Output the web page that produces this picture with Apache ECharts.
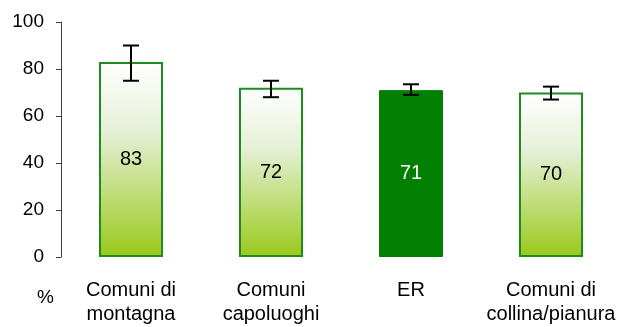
<!DOCTYPE html>
<html>
<head>
<meta charset="utf-8">
<script src="https://cdn.jsdelivr.net/npm/echarts@6/dist/echarts.min.js"></script>
<style>html,body{margin:0;padding:0;background:#fff;}#c{width:624px;height:327px;}</style>
</head>
<body>
<div id="c"></div>
<script>
const categories = ['Comuni di\nmontagna', 'Comuni\ncapoluoghi', 'ER', 'Comuni di\ncollina/pianura'];
const values = [83, 72, 71, 70];
const errLow = [75, 68, 69, 67];
const errHigh = [90, 75, 73.5, 72.5];
const yTicks = [0, 20, 40, 60, 80, 100];
const highlight = 'ER';

const chart = echarts.init(document.getElementById('c'), null, {renderer: 'canvas'});
const FONT = 'Liberation Sans, Arial, sans-serif';
const gradient = new echarts.graphic.LinearGradient(0, 0, 0, 1, [
  {offset: 0, color: '#ffffff'},
  {offset: 0.35, color: '#e6f0d8'},
  {offset: 1, color: '#99c91a'}
]);
const barData = values.map((v, i) => {
  const isHi = categories[i] === highlight;
  return {
    value: v,
    itemStyle: isHi ? {color: '#007f00', borderColor: '#007f00', borderWidth: 1}
                    : {color: gradient, borderColor: '#1e8c1e', borderWidth: 2},
    label: {color: isHi ? '#ffffff' : '#000000'}
  };
});
const errData = values.map((v, i) => [i, errLow[i], errHigh[i]]);

chart.setOption({
  animation: false,
  grid: {left: 61, right: 3, top: 22, bottom: 70},
  xAxis: {
    type: 'category',
    data: categories,
    axisLine: {show: false},
    axisTick: {show: false},
    axisLabel: {fontFamily: FONT, fontSize: 20, color: '#000', lineHeight: 24, margin: 21, interval: 0}
  },
  yAxis: {
    type: 'value',
    min: yTicks[0], max: yTicks[yTicks.length - 1], interval: 20,
    splitLine: {show: false},
    axisLine: {show: true, lineStyle: {color: '#404040', width: 1}},
    axisTick: {show: true, inside: false, length: 5, lineStyle: {color: '#404040'}},
    axisLabel: {fontFamily: FONT, fontSize: 19, color: '#000', margin: 17}
  },
  graphic: [{
    type: 'text', left: 37, top: 288,
    style: {text: '%', font: '19px ' + FONT, fill: '#000'}
  }],
  series: [{
    type: 'bar',
    data: barData,
    barWidth: 64,
    label: {show: true, position: 'inside', fontFamily: FONT, fontSize: 20},
    z: 2
  }, {
    type: 'custom',
    data: errData,
    z: 5,
    renderItem: function (params, api) {
      const x = api.value(0);
      const lo = api.coord([x, api.value(1)]);
      const hi = api.coord([x, api.value(2)]);
      const w = 8;
      const st = {stroke: '#000', lineWidth: 2};
      return {
        type: 'group',
        children: [
          {type: 'line', shape: {x1: lo[0], y1: lo[1], x2: hi[0], y2: hi[1]}, style: st},
          {type: 'line', shape: {x1: lo[0] - w, y1: lo[1], x2: lo[0] + w, y2: lo[1]}, style: st},
          {type: 'line', shape: {x1: hi[0] - w, y1: hi[1], x2: hi[0] + w, y2: hi[1]}, style: st}
        ]
      };
    }
  }]
});
</script>
</body>
</html>
